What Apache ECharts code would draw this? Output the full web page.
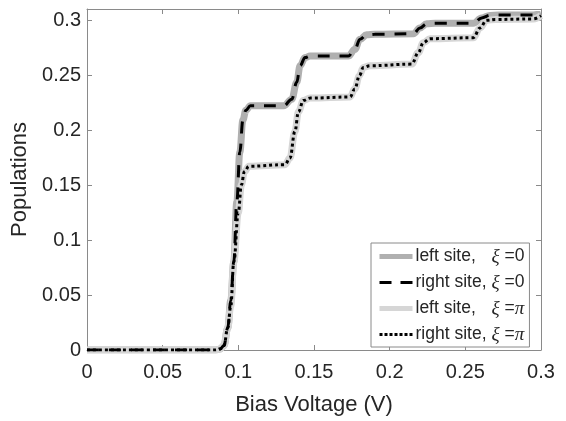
<!DOCTYPE html>
<html>
<head>
<meta charset="utf-8">
<script src="https://cdn.jsdelivr.net/npm/echarts@6/dist/echarts.min.js"></script>
<style>
html,body{margin:0;padding:0;background:#fff;}
#c{width:566px;height:421px;}
</style>
</head>
<body>
<div id="c"></div>
<script>
// Bias voltage (V) and population pairs
var leftXi0 = [
  [0,0],[0.085,0],[0.088,0.001],[0.0905,0.004],[0.093,0.02],[0.095,0.045],[0.097,0.08],
  [0.099,0.135],[0.101,0.18],[0.103,0.209],[0.105,0.218],[0.108,0.222],[0.13,0.222],
  [0.1353,0.228],[0.1386,0.2434],[0.1408,0.2584],[0.1441,0.2659],[0.1474,0.2672],
  [0.1727,0.2672],[0.177,0.2734],[0.1804,0.2824],[0.1848,0.2865],[0.19,0.287],
  [0.2157,0.2875],[0.22,0.2928],[0.2245,0.2966],[0.23,0.297],[0.2553,0.297],
  [0.2608,0.3018],[0.2663,0.3042],[0.272,0.3045],[0.295,0.3045],[0.3,0.306]
];
var rightXi0 = [
  [0,0],[0.085,0],[0.088,0.001],[0.0905,0.004],[0.093,0.02],[0.095,0.045],[0.097,0.08],
  [0.099,0.135],[0.101,0.18],[0.103,0.209],[0.105,0.218],[0.108,0.222],[0.13,0.222],
  [0.1353,0.228],[0.1386,0.2434],[0.1408,0.2584],[0.1441,0.2659],[0.1474,0.2672],
  [0.1727,0.2672],[0.177,0.2734],[0.1804,0.2824],[0.1848,0.2865],[0.19,0.287],
  [0.2157,0.2875],[0.22,0.2928],[0.2245,0.2966],[0.23,0.297],[0.2553,0.297],
  [0.2608,0.3018],[0.2663,0.3042],[0.272,0.3045],[0.295,0.3045],[0.3,0.306]
];
var leftXiPi = [
  [0,0],[0.085,0],[0.088,0.001],[0.0905,0.004],[0.093,0.02],[0.095,0.04],[0.097,0.08],
  [0.1,0.125],[0.102,0.15],[0.104,0.162],[0.107,0.167],[0.1308,0.1685],[0.1341,0.1745],
  [0.1374,0.1987],[0.1397,0.2165],[0.143,0.2269],[0.1474,0.229],[0.1738,0.23],
  [0.177,0.2374],[0.18,0.2494],[0.1826,0.2569],[0.187,0.2584],[0.2145,0.2599],
  [0.219,0.2704],[0.2222,0.2794],[0.2267,0.283],[0.2553,0.2839],[0.2597,0.2928],
  [0.264,0.2997],[0.27,0.3005],[0.295,0.301],[0.3,0.304]
];
var rightXiPi = [
  [0,0],[0.085,0],[0.088,0.001],[0.0905,0.004],[0.093,0.02],[0.095,0.04],[0.097,0.08],
  [0.1,0.125],[0.102,0.15],[0.104,0.162],[0.107,0.167],[0.1308,0.1685],[0.1341,0.1745],
  [0.1374,0.1987],[0.1397,0.2165],[0.143,0.2269],[0.1474,0.229],[0.1738,0.23],
  [0.177,0.2374],[0.18,0.2494],[0.1826,0.2569],[0.187,0.2584],[0.2145,0.2599],
  [0.219,0.2704],[0.2222,0.2794],[0.2267,0.283],[0.2553,0.2839],[0.2597,0.2928],
  [0.264,0.2997],[0.27,0.3005],[0.295,0.301],[0.3,0.304]
];
var seriesNames = ['left site, ξ=0', 'right site, ξ=0', 'left site, ξ=π', 'right site, ξ=π'];
var legendSite = ['left site,', 'right site,', 'left site,', 'right site,'];
var legendVal = ['0', '0', 'π', 'π'];

var chart = echarts.init(document.getElementById('c'));
var axisColor = '#8a8a8a';
var textColor = '#262626';
var font = 'Liberation Sans, Arial, sans-serif';
var serif = 'Liberation Serif, Times New Roman, serif';

function mkAxis(pos, isX, showLabel) {
  return {
    type: 'value',
    position: pos,
    min: 0,
    max: isX ? 0.3 : 0.31,
    interval: 0.05,
    splitLine: {show: false},
    axisLine: {show: true, onZero: false, lineStyle: {color: axisColor, width: 1}},
    axisTick: {show: true, inside: true, length: 5, lineStyle: {color: axisColor}},
    axisLabel: {
      show: showLabel,
      color: textColor,
      fontFamily: font,
      fontSize: 20,
      margin: isX ? 12 : 6,
      showMaxLabel: isX,
      formatter: function (v) {
        var k = Math.round(v / 0.05);
        if (Math.abs(v - k * 0.05) > 1e-9) return '';
        return String(+v.toFixed(2));
      }
    }
  };
}

var xa = mkAxis('bottom', true, true);
xa.name = 'Bias Voltage (V)';
xa.nameLocation = 'middle';
xa.nameGap = 44;
xa.nameTextStyle = {color: textColor, fontFamily: font, fontSize: 22};
var xa2 = mkAxis('top', true, false);
var ya = mkAxis('left', false, true);
ya.name = 'Populations';
ya.nameLocation = 'middle';
ya.nameGap = 53;
ya.nameTextStyle = {color: textColor, fontFamily: font, fontSize: 22};
var ya2 = mkAxis('right', false, false);

var seriesColors = ['#b0b0b0', '#000000', '#d6d6d6', '#000000'];
var seriesWidths = [7, 3, 7, 3];
var seriesTypes = ['solid', [12, 10], 'solid', [3, 3]];
var legendWidths = [5, 3, 5, 3];
var legendTypes = ['solid', [12, 9], 'solid', [3, 2]];

function line(i, data, z) {
  return {
    name: seriesNames[i], type: 'line', data: data, xAxisIndex: 0, yAxisIndex: 0,
    symbol: 'none', showSymbol: false, smooth: 0.4, smoothMonotone: 'x',
    lineStyle: {color: seriesColors[i], width: seriesWidths[i], type: seriesTypes[i], cap: 'butt'},
    itemStyle: {color: seriesColors[i]},
    z: z, animation: false
  };
}

var rich = {
  a: {fontFamily: font, fontSize: 17.5, color: textColor, width: 76, lineHeight: 18},
  g: {fontFamily: serif, fontStyle: 'italic', fontSize: 19, color: textColor, lineHeight: 18},
  b: {fontFamily: font, fontSize: 17.5, color: textColor, lineHeight: 18}
};

chart.setOption({
  backgroundColor: '#ffffff',
  animation: false,
  grid: {left: 87, top: 9, right: 25, bottom: 67, containLabel: false},
  xAxis: [xa, xa2],
  yAxis: [ya, ya2],
  legend: {
    data: seriesNames.map(function (n, i) {
      return {name: n, lineStyle: {width: legendWidths[i], type: legendTypes[i], color: seriesColors[i], cap: 'butt'}};
    }),
    orient: 'vertical',
    left: 371, top: 243,
    padding: [4, 5, 3, 6],
    itemGap: 7,
    itemWidth: 33,
    itemHeight: 14,
    backgroundColor: '#ffffff',
    borderColor: axisColor,
    borderWidth: 1,
    borderRadius: 0,
    selectedMode: false,
    itemStyle: {opacity: 0},
    textStyle: {rich: rich, lineHeight: 18, padding: [0, 0, 0, -2]},
    formatter: function (name) {
      var i = seriesNames.indexOf(name);
      var v = legendVal[i];
      return '{a|' + legendSite[i] + '}{g|ξ}{b| =}' + (v === 'π' ? '{g|π}' : '{b|' + v + '}');
    }
  },
  series: [
    line(0, leftXi0, 2),
    line(1, rightXi0, 4),
    line(2, leftXiPi, 3),
    line(3, rightXiPi, 5)
  ]
});
</script>
</body>
</html>
